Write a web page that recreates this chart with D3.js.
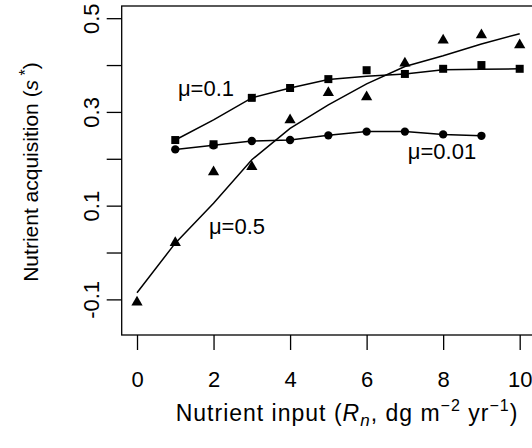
<!DOCTYPE html>
<html>
<head>
<meta charset="utf-8">
<script src="https://cdn.jsdelivr.net/npm/d3@7"></script>
<style>
  body { margin: 0; background: #fff; }
  svg { font-family: "Liberation Sans", Arial, sans-serif; }
</style>
</head>
<body>
<div id="chart"></div>
<script>

// mu = 0.1 : simulated points (squares) and model curve
var mu01x = [1, 2, 3, 4, 5, 6, 7, 8, 9, 10];
var mu01pts = [0.240, 0.231, 0.330, 0.351, 0.370, 0.389, 0.381, 0.392, 0.400, 0.392];
var mu01line = [0.240, 0.283, 0.330, 0.351, 0.369, 0.376, 0.381, 0.390, 0.391, 0.392];

// mu = 0.01 : points (circles) and curve
var mu001x = [1, 2, 3, 4, 5, 6, 7, 8, 9];
var mu001pts = [0.220, 0.229, 0.238, 0.240, 0.250, 0.258, 0.258, 0.252, 0.249];
var mu001line = [0.220, 0.229, 0.238, 0.240, 0.250, 0.258, 0.258, 0.252, 0.249];

// mu = 0.5 : points (triangles) and curve
var mu05x = [0, 1, 2, 3, 4, 5, 6, 7, 8, 9, 10];
var mu05pts = [-0.106, 0.021, 0.172, 0.183, 0.283, 0.341, 0.332, 0.404, 0.453, 0.464, 0.443];
var mu05line = [-0.086, 0.020, 0.105, 0.198, 0.265, 0.315, 0.360, 0.397, 0.420, 0.445, 0.467];

// axis ticks
var xTicks = [0, 2, 4, 6, 8, 10];
var yTicks = [-0.1, 0, 0.1, 0.2, 0.3, 0.4, 0.5];
var yTickLabels = ["-0.1", "", "0.1", "", "0.3", "", "0.5"];

function init(){
	var w = 532, h = 448;

	var svg = d3.select("#chart")
				.append("svg")
				.attr("width", w)
				.attr("height", h);

	// R style: limits padded by 4%
	var x = d3.scaleLinear().domain([-0.4, 10.4]).range([121.7, 535]);
	var y = d3.scaleLinear().domain([-0.176, 0.526]).range([335, 6]);

	//box round the plot region
	svg.append("rect")
		.attr("x", x(-0.4))
		.attr("y", y(0.526))
		.attr("width", x(10.4) - x(-0.4))
		.attr("height", y(-0.176) - y(0.526))
		.attr("fill", "none")
		.attr("stroke", "#000")
		.attr("stroke-width", 1.3);

	//x axis
	var gx = svg.append("g")
				.attr("transform", "translate(0," + y(-0.176) + ")")
				.call(d3.axisBottom(x).tickValues(xTicks).tickSize(15).tickPadding(21));
	gx.select(".domain").remove();
	gx.selectAll("line").attr("stroke-width", 1.3);
	gx.selectAll("text").attr("font-size", 22).attr("font-family", null).attr("fill", "#000");

	//y axis, labels turned like R's las=0
	var gy = svg.append("g")
				.attr("transform", "translate(" + x(-0.4) + ",0)")
				.call(d3.axisLeft(y).tickValues(yTicks).tickSize(15)
					.tickFormat(function(d, i){ return yTickLabels[i]; }));
	gy.select(".domain").remove();
	gy.selectAll("line").attr("stroke-width", 1.3);
	gy.selectAll("text")
		.attr("font-size", 22)
		.attr("font-family", null)
		.attr("fill", "#000")
		.attr("x", null)
		.attr("dy", null)
		.attr("text-anchor", "middle")
		.attr("transform", "translate(-23,0) rotate(-90)");

	var line = d3.line()
				.x(function(d){ return x(d[0]); })
				.y(function(d){ return y(d[1]); });

	function series(xs, pts, ln, symbol, size){
		svg.append("path")
			.attr("d", line(d3.zip(xs, ln)))
			.attr("fill", "none")
			.attr("stroke", "#000")
			.attr("stroke-width", 1.5);
		svg.selectAll(null)
			.data(d3.zip(xs, pts))
			.enter()
			.append("path")
			.attr("d", d3.symbol().type(symbol).size(size))
			.attr("transform", function(d){ return "translate(" + x(d[0]) + "," + y(d[1]) + ")"; })
			.attr("fill", "#000");
	}

	series(mu01x, mu01pts, mu01line, d3.symbolSquare, 64);
	series(mu001x, mu001pts, mu001line, d3.symbolCircle, 55);
	series(mu05x, mu05pts, mu05line, d3.symbolTriangle, 55);

	//series labels
	var labels = [["\u03bc=0.1", 206, 96], ["\u03bc=0.01", 442, 159], ["\u03bc=0.5", 237, 234]];
	svg.selectAll(null)
		.data(labels)
		.enter()
		.append("text")
		.attr("x", function(d){ return d[1]; })
		.attr("y", function(d){ return d[2]; })
		.attr("text-anchor", "middle")
		.attr("font-size", 22)
		.text(function(d){ return d[0]; });

	//x title
	var xt = svg.append("text")
				.attr("x", 347)
				.attr("y", 421)
				.attr("text-anchor", "middle")
				.attr("font-size", 23)
				.attr("letter-spacing", 1);
	xt.append("tspan").text("Nutrient input (");
	xt.append("tspan").attr("font-style", "italic").text("R");
	xt.append("tspan").attr("font-style", "italic").attr("font-size", 17).attr("dy", 5).text("n");
	xt.append("tspan").attr("dy", -5).text(", dg m");
	xt.append("tspan").attr("font-size", 16).attr("dy", -10).text("\u22122");
	xt.append("tspan").attr("dy", 10).text(" yr");
	xt.append("tspan").attr("font-size", 16).attr("dy", -10).text("\u22121");
	xt.append("tspan").attr("dy", 10).text(")");

	//y title
	var yt = svg.append("text")
				.attr("transform", "translate(38,172) rotate(-90)")
				.attr("text-anchor", "middle")
				.attr("font-size", 21);
	yt.append("tspan").text("Nutrient acquisition (");
	yt.append("tspan").attr("font-style", "italic").text("s");
	yt.append("tspan").attr("font-size", 16).attr("dy", -7).text(" *");
	yt.append("tspan").attr("dy", 7).text(")");
}

window.onload = init;
</script>
</body>
</html>
